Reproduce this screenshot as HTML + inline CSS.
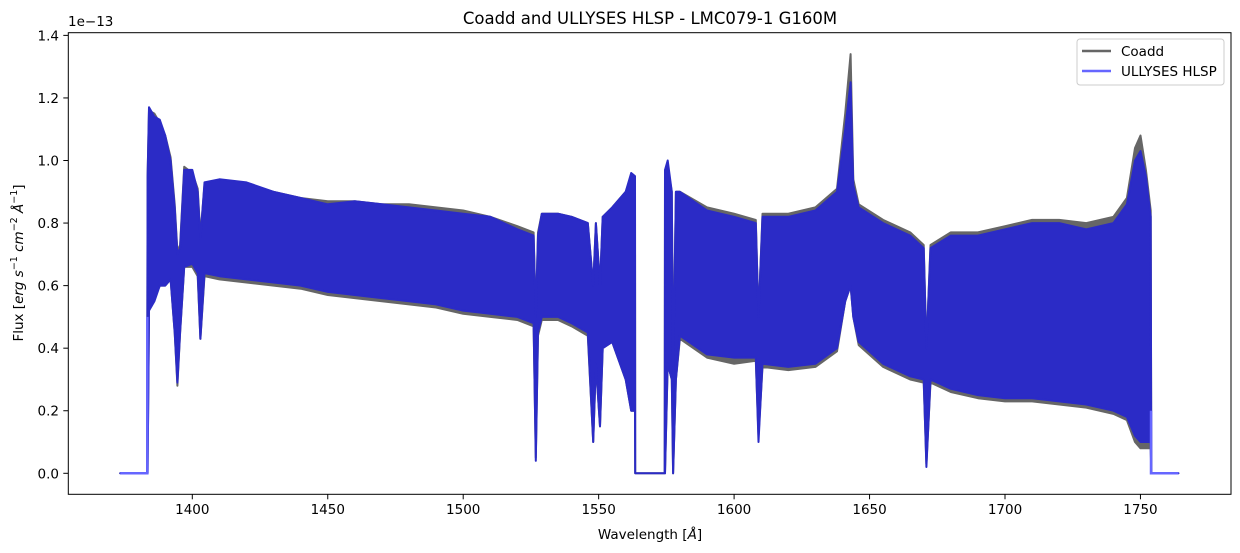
<!DOCTYPE html>
<html><head><meta charset="utf-8"><style>
html,body{margin:0;padding:0;background:#fff;}
svg{display:block;font-family:"DejaVu Sans","Liberation Sans",sans-serif;}
</style></head><body>
<svg id="chart" width="1240" height="553" viewBox="0 0 1240 553" xmlns="http://www.w3.org/2000/svg">
<rect width="1240" height="553" fill="#fff"/>
<text x="650" y="24" font-size="16.5" text-anchor="middle" fill="#000">Coadd and ULLYSES HLSP - LMC079-1 G160M</text>
<g id="series"></g>
<rect x="68.3" y="32.7" width="1162.7" height="461.6" fill="none" stroke="#000" stroke-width="1"/>
<g id="xticks"></g><g id="yticks"></g>
<text x="68" y="26" font-size="13.5" fill="#000">1e−13</text>
<text x="650" y="539" font-size="13.5" text-anchor="middle" fill="#000">Wavelength [<tspan font-style="italic">Å</tspan>]</text>
<text transform="translate(23,263) rotate(-90)" font-size="13.5" text-anchor="middle" fill="#000">Flux [<tspan font-style="italic">erg s</tspan><tspan font-size="9.5" dy="-6">−1</tspan><tspan dy="6" font-style="italic"> cm</tspan><tspan font-size="9.5" dy="-6">−2</tspan><tspan dy="6" font-style="italic"> Å</tspan><tspan font-size="9.5" dy="-6">−1</tspan><tspan dy="6">]</tspan></text>
<g>
<rect x="1077" y="39" width="147" height="46" rx="3" fill="#fff" fill-opacity="0.8" stroke="#ccc" stroke-width="1"/>
<line x1="1082" y1="51" x2="1111" y2="51" stroke="#666" stroke-width="2.5"/>
<text x="1121" y="56" font-size="13.5" fill="#000">Coadd</text>
<line x1="1082" y1="71" x2="1111" y2="71" stroke="#6666ff" stroke-width="2.5"/>
<text x="1121" y="76" font-size="13.5" fill="#000">ULLYSES HLSP</text>
</g>
</svg>
<script>
const wl   =[1373.4,1383.3,1383.5,1384,1386,1388,1390,1392,1393.5,1394.5,1395.5,1397,1400,1402,1403,1404.5,1410,1420,1430,1440,1450,1460,1470,1480,1490,1500,1510,1520,1526,1526.8,1527.6,1529,1535,1540,1546,1548,1549,1550.5,1551.5,1555,1560,1562,1563.4,1563.5,1574.4,1574.5,1575.5,1577,1577.5,1578.5,1580,1590,1600,1608,1609,1610.5,1620,1630,1638,1641,1643,1644,1646,1655,1665,1670,1671,1672.5,1680,1690,1700,1710,1720,1730,1740,1745,1748,1750,1752,1753.8,1754,1764];
const hlspHi=[0,0,0.95,1.17,1.14,1.13,1.08,1.0,0.85,0.7,0.72,0.97,0.97,0.9,0.75,0.93,0.94,0.93,0.9,0.88,0.86,0.87,0.86,0.85,0.84,0.83,0.82,0.78,0.76,0.5,0.76,0.83,0.83,0.82,0.8,0.6,0.8,0.6,0.82,0.85,0.9,0.96,0.95,0,0,0.97,1.0,0.9,0.3,0.9,0.9,0.84,0.82,0.8,0.5,0.82,0.82,0.84,0.9,1.1,1.25,0.92,0.85,0.8,0.76,0.72,0.4,0.72,0.76,0.76,0.78,0.8,0.8,0.78,0.8,0.86,1.0,1.03,0.95,0.82,0,0];
const hlspLo=[0,0,0,0.52,0.55,0.6,0.6,0.62,0.45,0.29,0.45,0.66,0.67,0.64,0.43,0.64,0.63,0.62,0.61,0.6,0.58,0.57,0.56,0.55,0.54,0.52,0.51,0.5,0.48,0.04,0.45,0.5,0.5,0.48,0.45,0.1,0.35,0.15,0.4,0.42,0.3,0.2,0.2,0,0,0,0.35,0.3,0,0.3,0.44,0.38,0.37,0.37,0.1,0.35,0.34,0.35,0.4,0.55,0.6,0.5,0.42,0.35,0.31,0.3,0.02,0.3,0.27,0.25,0.24,0.24,0.23,0.22,0.2,0.18,0.12,0.1,0.1,0.1,0,0];
const coaddHi=[0,0,0.95,1.16,1.15,1.12,1.08,1.01,0.86,0.71,0.73,0.98,0.96,0.91,0.76,0.92,0.93,0.92,0.9,0.88,0.87,0.87,0.86,0.86,0.85,0.84,0.82,0.79,0.77,0.5,0.77,0.83,0.83,0.82,0.8,0.6,0.8,0.6,0.82,0.85,0.9,0.95,0.94,0,0,0.95,0.98,0.9,0.3,0.9,0.9,0.85,0.83,0.81,0.5,0.83,0.83,0.85,0.91,1.15,1.34,0.94,0.86,0.81,0.77,0.73,0.4,0.73,0.77,0.77,0.79,0.81,0.81,0.8,0.82,0.88,1.04,1.08,0.97,0.84,0,0];
const coaddLo=[0,0,0,0.53,0.56,0.6,0.6,0.62,0.45,0.28,0.45,0.66,0.66,0.63,0.43,0.63,0.62,0.61,0.6,0.59,0.57,0.56,0.55,0.54,0.53,0.51,0.5,0.49,0.47,0.05,0.44,0.49,0.49,0.47,0.44,0.1,0.35,0.15,0.4,0.42,0.3,0.2,0.2,0,0,0,0.35,0.3,0,0.3,0.43,0.37,0.35,0.36,0.12,0.34,0.33,0.34,0.39,0.55,0.6,0.5,0.41,0.34,0.3,0.29,0.03,0.29,0.26,0.24,0.23,0.23,0.22,0.21,0.19,0.17,0.1,0.08,0.08,0.08,0,0];
const xTicks=[1400,1450,1500,1550,1600,1650,1700,1750];
const yTicks=[0.0,0.2,0.4,0.6,0.8,1.0,1.2,1.4];

const NS="http://www.w3.org/2000/svg";
function xs(w){return 192.3+(w-1400)*2.709;}
function ys(v){return 473.3-v*312.8;}
function band(hi,lo,color,name){
  let d="";
  for(let i=0;i<wl.length;i++) d+=(i?"L":"M")+xs(wl[i]).toFixed(1)+","+ys(hi[i]).toFixed(1);
  for(let i=wl.length-1;i>=0;i--) d+="L"+xs(wl[i]).toFixed(1)+","+ys(lo[i]).toFixed(1);
  d+="Z";
  const p=document.createElementNS(NS,"path");
  p.setAttribute("d",d);p.setAttribute("fill",color);p.setAttribute("stroke",color);
  p.setAttribute("stroke-width","2");p.setAttribute("stroke-linejoin","round");
  
  
  document.getElementById("series").appendChild(p);
}
band(coaddHi,coaddLo,"#666666","coadd-series");
band(hlspHi,hlspLo,"#2b2bc6","hlsp-series");
(function(){
  const p=document.createElementNS(NS,"polyline");
  const pts=[[1373.4,0],[1383.4,0],[1383.4,0.5]].map(a=>xs(a[0])+","+ys(a[1])).join(" ");
  p.setAttribute("points",pts);p.setAttribute("fill","none");p.setAttribute("stroke","#6666ff");p.setAttribute("stroke-width","2.5");
  
  
  document.getElementById("series").appendChild(p);
  const q=document.createElementNS(NS,"polyline");
  const pts2=[[1753.9,0.2],[1753.9,0],[1764,0]].map(a=>xs(a[0])+","+ys(a[1])).join(" ");
  q.setAttribute("points",pts2);q.setAttribute("fill","none");q.setAttribute("stroke","#6666ff");q.setAttribute("stroke-width","2.5");
  
  
  document.getElementById("series").appendChild(q);
})();
const xg=document.getElementById("xticks");
xTicks.forEach(t=>{
  const l=document.createElementNS(NS,"line");
  l.setAttribute("x1",xs(t));l.setAttribute("x2",xs(t));l.setAttribute("y1",494.3);l.setAttribute("y2",499.3);l.setAttribute("stroke","#000");
  
  
  xg.appendChild(l);
  const tx=document.createElementNS(NS,"text");
  tx.setAttribute("x",xs(t));tx.setAttribute("y",514);tx.setAttribute("font-size","13.5");tx.setAttribute("text-anchor","middle");
  tx.textContent=t;
  
  
  xg.appendChild(tx);
});
const yg=document.getElementById("yticks");
yTicks.forEach(t=>{
  const l=document.createElementNS(NS,"line");
  l.setAttribute("x1",63.3);l.setAttribute("x2",68.3);l.setAttribute("y1",ys(t));l.setAttribute("y2",ys(t));l.setAttribute("stroke","#000");
  
  
  yg.appendChild(l);
  const tx=document.createElementNS(NS,"text");
  tx.setAttribute("x",59);tx.setAttribute("y",ys(t)+5);tx.setAttribute("font-size","13.5");tx.setAttribute("text-anchor","end");
  tx.textContent=t.toFixed(1);
  
  
  yg.appendChild(tx);
});
</script>
</body></html>
